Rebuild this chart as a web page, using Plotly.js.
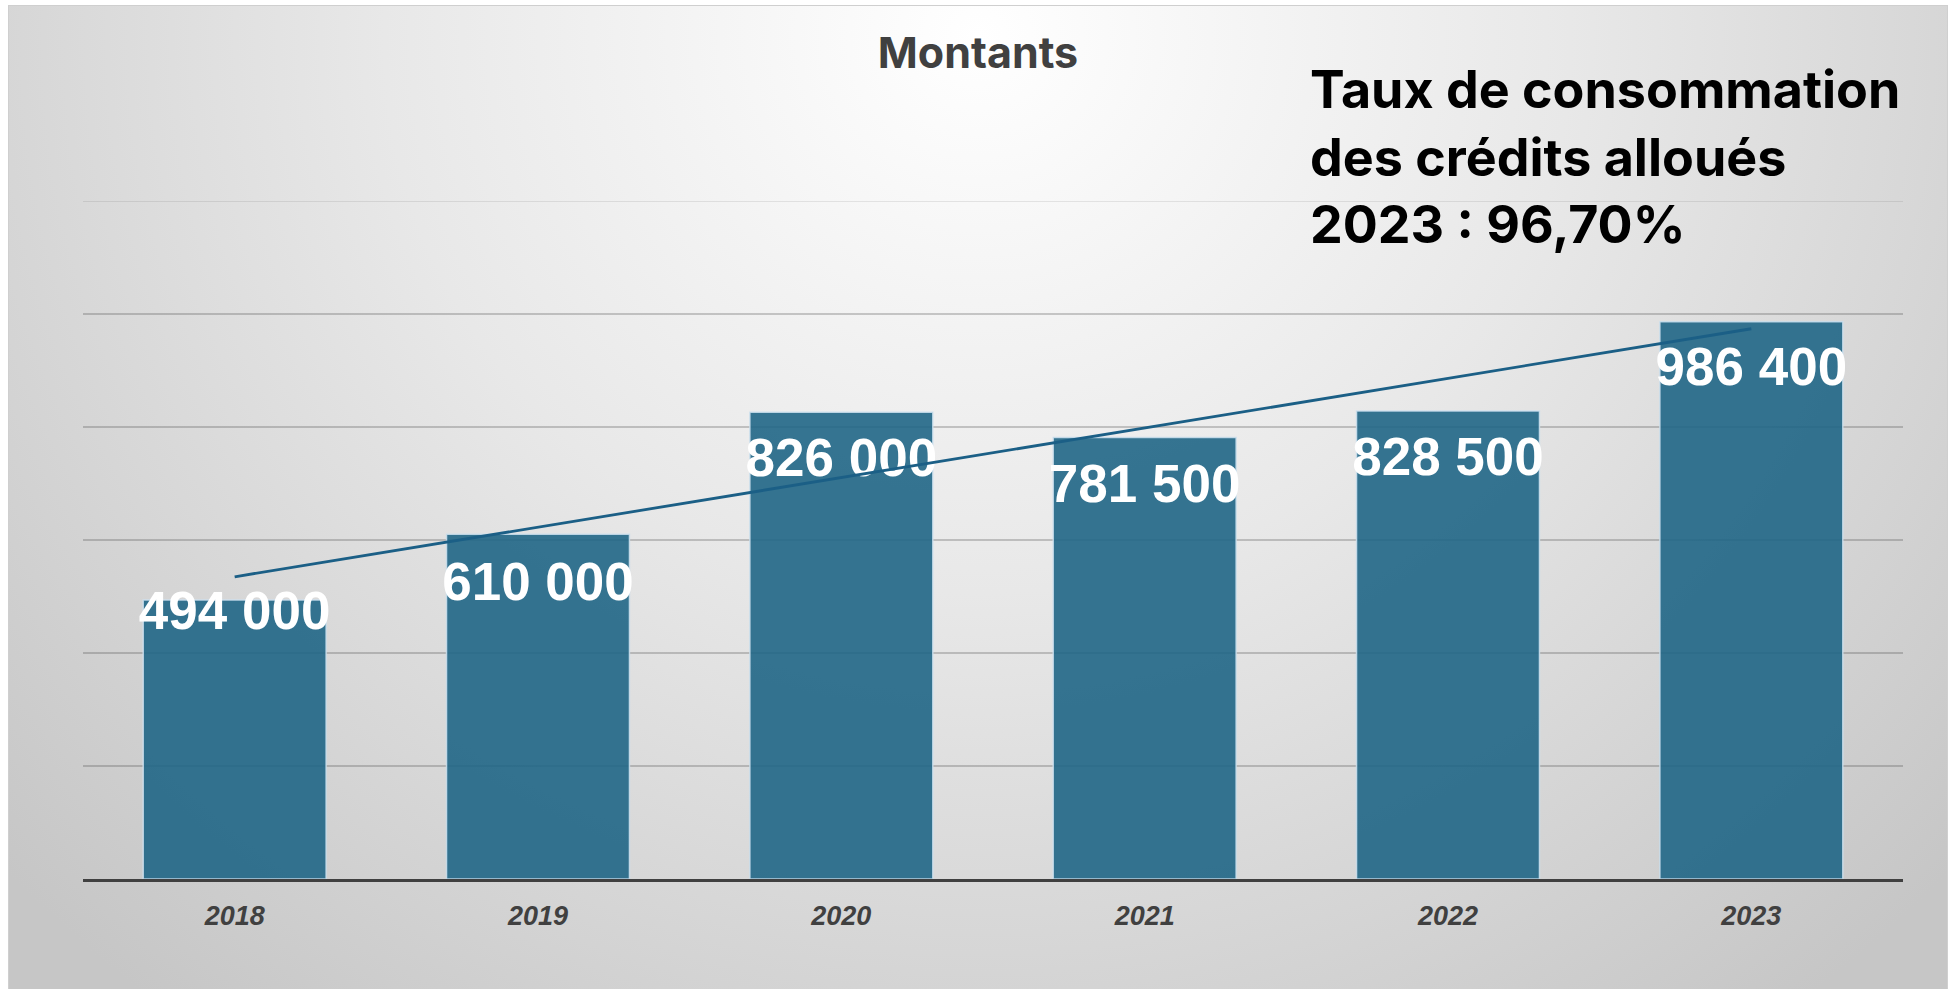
<!DOCTYPE html>
<html>
<head>
<meta charset="utf-8">
<script src="https://cdn.plot.ly/plotly-3.0.1.min.js"></script>
<style>
  html, body { margin: 0; padding: 0; background: #ffffff; width: 1957px; height: 989px; overflow: hidden; }
  #frame {
    position: absolute; left: 8px; top: 5px; width: 1938px; height: 990px;
    border: 1px solid #cfcfcf;
    background: radial-gradient(ellipse 68% 125% at 50% 3%, #ffffff 0%, #e8e8e8 45%, #c6c6c6 100%);
  }
  #chart { position: absolute; left: 0; top: 0; width: 1957px; height: 989px; }
</style>
</head>
<body>
<div id="frame"></div>
<div id="chart"></div>
<script>
// ---- data ----
const years = ["2018", "2019", "2020", "2021", "2022", "2023"];
const amounts = [494000, 610000, 826000, 781500, 828500, 986400];
const chartTitle = "Montants";
const noteLines = ["Taux de consommation", "des crédits alloués", "2023 : 96,70%"];

// ---- layout constants ----
const W = 1957, H = 989;
const M = { l: 83, r: 54, t: 201, b: 110 };
const yMax = 1200000;
const yStep = 200000;
const plotH = H - M.t - M.b;
const unitsPerPx = yMax / plotH;
// label vertical offsets below bar top, in pixels
const labelDrop = [16, 52, 50, 51, 51, 50];

function fmt(v) {
  return String(v).replace(/\B(?=(\d{3})+(?!\d))/g, " ");
}

// least-squares linear trendline over the categories
const n = amounts.length;
const xi = amounts.map((_, i) => i);
const mx = xi.reduce((a, b) => a + b, 0) / n;
const my = amounts.reduce((a, b) => a + b, 0) / n;
let sxy = 0, sxx = 0;
for (let i = 0; i < n; i++) { sxy += (xi[i] - mx) * (amounts[i] - my); sxx += (xi[i] - mx) ** 2; }
const slope = sxy / sxx, icpt = my - slope * mx;
const trend = xi.map(i => icpt + slope * i);

const bars = {
  type: "bar",
  x: years,
  y: amounts,
  marker: { color: "rgba(32,102,134,0.9)", line: { color: "rgba(205,225,238,0.85)", width: 1.5 } },
  hoverinfo: "skip",
  showlegend: false
};

const labels = {
  type: "scatter",
  mode: "text",
  x: years,
  y: amounts.map((v, i) => v - labelDrop[i] * unitsPerPx),
  text: amounts.map(fmt),
  textposition: "middle center",
  textfont: { family: "Liberation Sans, Arial, sans-serif", size: 53, color: "#ffffff", weight: 700 },
  hoverinfo: "skip",
  showlegend: false,
  cliponaxis: false
};

const trendLine = {
  type: "scatter",
  mode: "lines",
  x: years,
  y: trend,
  line: { color: "#1b5f86", width: 2.8 },
  hoverinfo: "skip",
  showlegend: false
};

function px2paperX(px) { return (px - M.l) / (W - M.l - M.r); }
function px2paperY(py) { return (H - M.b - py) / plotH; }

const gridColor = "rgba(70,70,70,0.27)";

const layout = {
  width: W,
  height: H,
  margin: M,
  paper_bgcolor: "rgba(0,0,0,0)",
  plot_bgcolor: "rgba(0,0,0,0)",
  bargap: 0.397,
  title: {
    text: chartTitle,
    x: 978 / W,
    xanchor: "center",
    xref: "container",
    y: 1 - 53 / H,
    yanchor: "middle",
    yref: "container",
    font: { family: "Inter, sans-serif", size: 43, color: "#404040", weight: 700 }
  },
  xaxis: {
    type: "category",
    showline: true,
    linecolor: "#404040",
    linewidth: 3,
    ticks: "",
    showgrid: false,
    zeroline: false,
    ticklabelstandoff: 11,
    tickfont: { family: "Liberation Sans, Arial, sans-serif", size: 27, color: "#404040", weight: 700, style: "italic" },
    fixedrange: true
  },
  yaxis: {
    range: [0, yMax],
    dtick: yStep,
    tick0: 0,
    showticklabels: false,
    ticks: "",
    showgrid: true,
    gridcolor: gridColor,
    gridwidth: 1.5,
    zeroline: false,
    showline: false,
    fixedrange: true
  },
  shapes: [{
    type: "line", layer: "below",
    xref: "paper", x0: 0, x1: 1,
    yref: "y", y0: yMax, y1: yMax,
    line: { color: "rgba(70,70,70,0.16)", width: 1.5 }
  }],
  annotations: [{
    text: noteLines.join("<br>"),
    xref: "paper", yref: "paper",
    x: px2paperX(1308), y: px2paperY(56),
    xanchor: "left", yanchor: "top",
    align: "left",
    showarrow: false,
    font: { family: "Inter, sans-serif", size: 52, color: "#000000", weight: 700 }
  }]
};

Plotly.newPlot("chart", [bars, labels, trendLine], layout, { displayModeBar: false, staticPlot: true });
</script>
</body>
</html>
